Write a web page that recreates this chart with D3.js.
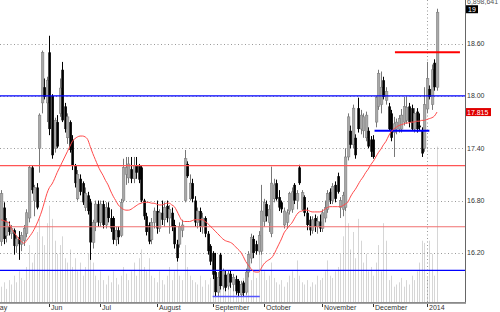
<!DOCTYPE html>
<html><head><meta charset="utf-8">
<script src="https://cdn.jsdelivr.net/npm/d3@7"></script>
<style>html,body{margin:0;padding:0;background:#fff;}svg{display:block;font-family:"Liberation Sans",Arial,sans-serif;}</style>
</head><body><svg id="c" width="500" height="312"></svg>
<script>
const openP=[16.33,16.72,16.40,16.50,16.42,16.46,16.28,16.38,16.30,16.34,16.42,16.60,17.18,16.80,16.95,17.40,17.92,18.10,17.92,18.50,18.00,17.40,17.70,17.80,18.30,17.88,17.52,17.70,17.50,17.20,16.82,17.05,17.00,16.72,16.86,16.78,16.32,16.55,16.76,16.55,16.76,16.52,16.72,16.60,16.60,16.35,16.46,16.40,16.80,17.10,17.06,17.16,17.05,17.20,17.20,17.18,16.80,16.62,16.52,16.35,16.55,16.68,16.48,16.66,16.58,16.74,16.60,16.66,16.52,16.30,16.30,16.46,16.80,17.22,16.82,17.00,16.80,16.55,16.68,16.50,16.60,16.42,16.28,16.20,15.98,15.75,16.18,15.82,15.95,15.82,15.96,15.84,15.90,15.88,15.72,15.86,15.75,15.98,16.14,16.36,16.30,16.22,16.22,16.56,16.76,16.55,16.42,16.82,17.00,16.84,16.78,16.52,16.55,16.68,16.70,16.98,16.80,17.18,16.70,16.84,16.66,16.58,16.46,16.60,16.50,16.56,16.48,16.60,16.70,16.90,16.80,16.98,17.08,16.72,16.70,16.72,17.30,17.60,17.44,17.52,17.86,17.62,17.60,17.52,17.60,17.50,17.50,17.70,17.88,17.90,18.18,17.95,17.88,17.80,17.58,17.62,17.62,17.62,17.70,17.72,17.88,17.86,17.62,17.82,17.66,17.60,17.40,17.85,18.08,17.90,18.38,18.10];
const highP=[16.92,16.78,16.60,16.56,16.52,16.48,16.40,16.45,16.44,16.52,16.70,17.20,17.20,16.98,17.00,17.80,18.52,18.20,18.22,18.69,18.02,17.75,17.78,18.20,18.39,17.92,17.80,17.72,17.55,17.22,17.15,17.10,17.02,16.95,16.90,16.82,16.58,16.80,16.80,16.80,16.80,16.78,16.78,16.70,16.62,16.50,16.50,16.82,17.28,17.30,17.30,17.30,17.30,17.30,17.22,17.20,16.82,16.66,16.55,16.60,16.72,16.80,16.70,16.80,16.78,16.80,16.75,16.72,16.58,16.35,16.55,16.58,17.38,17.25,17.10,17.05,16.85,16.72,16.72,16.66,16.62,16.45,16.30,16.22,16.20,15.98,16.20,16.02,16.00,16.00,16.00,15.96,15.94,15.90,15.88,15.88,16.02,16.22,16.42,16.40,16.34,16.45,16.98,16.82,16.80,16.75,17.19,17.05,17.04,16.92,16.80,16.72,16.70,16.90,16.95,17.00,16.92,17.21,16.92,16.86,16.72,16.62,16.62,16.64,16.62,16.64,16.70,16.80,16.92,16.94,17.00,17.02,17.12,16.84,16.90,17.40,17.80,17.66,17.90,17.56,17.98,17.84,17.80,17.82,17.64,17.54,17.55,18.00,18.30,18.28,18.22,18.10,17.92,17.84,17.76,17.74,17.78,17.85,17.99,17.99,17.92,17.90,17.86,17.86,17.80,17.64,18.10,18.39,18.12,18.36,18.42,19.00];
const lowP=[16.28,16.30,16.32,16.40,16.36,16.18,16.20,16.12,16.22,16.28,16.38,16.55,16.88,16.62,16.70,17.12,17.80,17.96,17.70,17.55,17.28,17.35,17.40,17.76,17.70,17.58,17.45,17.35,17.15,16.95,16.80,16.86,16.75,16.68,16.64,16.12,16.25,16.45,16.50,16.50,16.48,16.48,16.55,16.44,16.30,16.28,16.30,16.38,16.78,16.98,17.00,17.00,17.00,17.05,17.00,16.78,16.58,16.40,16.30,16.30,16.48,16.42,16.44,16.52,16.50,16.55,16.42,16.45,16.25,16.10,16.26,16.38,16.78,17.06,16.80,16.78,16.50,16.48,16.44,16.42,16.38,16.18,16.06,15.90,15.70,15.70,15.78,15.78,15.76,15.78,15.80,15.76,15.72,15.70,15.70,15.70,15.72,15.92,16.08,16.14,16.18,16.18,16.18,16.50,16.56,16.44,16.38,16.78,16.80,16.68,16.66,16.48,16.48,16.64,16.66,16.76,16.70,16.98,16.68,16.62,16.46,16.40,16.42,16.44,16.42,16.44,16.44,16.55,16.66,16.76,16.76,16.78,16.88,16.60,16.62,16.68,17.26,17.40,17.40,17.28,17.58,17.56,17.52,17.48,17.40,17.30,17.28,17.64,17.84,17.80,17.96,17.90,17.60,17.48,17.30,17.56,17.58,17.58,17.66,17.68,17.64,17.60,17.58,17.58,17.60,17.30,17.36,17.80,17.96,17.84,18.06,18.06];
const closeP=[16.88,16.36,16.55,16.44,16.48,16.28,16.36,16.30,16.40,16.48,16.66,17.18,16.92,16.95,16.72,17.78,18.50,17.99,18.18,17.62,17.32,17.72,17.42,18.09,17.72,17.62,17.76,17.38,17.20,17.00,17.10,16.90,16.78,16.88,16.68,16.32,16.55,16.76,16.55,16.76,16.52,16.72,16.60,16.48,16.35,16.46,16.38,16.78,17.18,17.18,17.22,17.05,17.20,17.12,17.04,16.80,16.62,16.44,16.33,16.55,16.68,16.48,16.66,16.58,16.72,16.60,16.70,16.50,16.30,16.14,16.50,16.52,17.28,17.08,17.00,16.82,16.55,16.68,16.50,16.60,16.42,16.22,16.10,15.95,15.75,15.92,15.82,16.00,15.80,15.96,15.86,15.92,15.76,15.74,15.84,15.74,15.98,16.18,16.38,16.20,16.22,16.40,16.68,16.78,16.62,16.70,17.00,16.98,16.82,16.72,16.70,16.68,16.66,16.88,16.90,16.80,16.88,17.00,16.89,16.66,16.52,16.46,16.58,16.50,16.56,16.48,16.66,16.72,16.88,16.80,16.96,16.82,16.90,16.80,16.86,17.30,17.76,17.44,17.86,17.32,17.62,17.78,17.76,17.78,17.42,17.36,17.30,17.98,18.26,18.10,17.99,18.05,17.62,17.52,17.68,17.70,17.74,17.78,17.88,17.87,17.70,17.62,17.80,17.62,17.64,17.34,17.90,18.20,17.99,18.30,18.10,18.96];
const maP=[16.58,16.57,16.56,16.55,16.48,16.44,16.40,16.36,16.33,16.31,16.34,16.38,16.42,16.47,16.53,16.60,16.68,16.78,16.88,16.95,16.99,17.05,17.12,17.18,17.24,17.30,17.36,17.42,17.48,17.51,17.53,17.54,17.54,17.53,17.50,17.42,17.34,17.27,17.20,17.14,17.09,17.03,16.98,16.91,16.85,16.80,16.75,16.72,16.70,16.69,16.69,16.70,16.72,16.74,16.76,16.77,16.78,16.78,16.78,16.77,16.77,16.76,16.75,16.75,16.76,16.77,16.77,16.75,16.73,16.68,16.62,16.57,16.56,16.56,16.56,16.57,16.58,16.58,16.58,16.58,16.56,16.54,16.51,16.48,16.45,16.42,16.39,16.36,16.34,16.33,16.32,16.30,16.27,16.24,16.21,16.16,16.10,16.06,16.02,15.99,15.98,15.98,16.02,16.07,16.10,16.12,16.14,16.18,16.24,16.30,16.36,16.43,16.47,16.51,16.54,16.59,16.64,16.67,16.68,16.69,16.69,16.68,16.67,16.67,16.67,16.67,16.68,16.70,16.72,16.73,16.73,16.73,16.73,16.73,16.74,16.76,16.78,16.84,16.89,16.93,16.98,17.03,17.07,17.12,17.16,17.21,17.25,17.30,17.35,17.39,17.44,17.48,17.54,17.59,17.62,17.64,17.66,17.67,17.68,17.69,17.69,17.70,17.70,17.71,17.71,17.72,17.72,17.73,17.74,17.75,17.77,17.815];
const volume=[0.35,0.45,0.30,0.50,0.40,0.60,0.45,0.70,0.55,0.50,0.80,1.30,0.90,1.10,1.60,1.90,1.50,1.30,1.80,2.20,1.90,1.40,1.10,1.30,1.50,1.00,0.90,1.20,0.80,1.00,0.70,0.90,0.60,0.80,1.10,1.40,0.90,0.60,0.50,0.70,0.50,0.40,0.60,0.45,0.70,0.55,0.40,0.60,0.80,0.65,0.50,0.70,0.90,0.60,1.00,1.20,0.80,0.70,1.00,0.60,0.55,0.45,0.70,0.50,0.40,0.60,0.80,0.50,0.70,0.90,0.60,0.50,1.30,0.80,0.60,0.50,0.45,0.40,0.60,0.35,0.50,0.40,0.55,0.70,0.45,0.35,0.40,0.50,0.30,0.45,0.35,0.50,0.40,0.30,0.45,0.55,0.40,0.60,0.50,0.70,0.55,1.30,1.10,0.70,0.50,0.60,0.90,0.55,0.45,0.40,0.50,0.35,0.45,0.60,0.70,0.55,0.95,0.60,0.45,0.40,0.50,0.35,0.45,0.40,0.60,0.50,0.55,0.70,0.95,0.60,0.55,0.70,0.80,1.10,1.50,2.10,1.80,1.20,1.60,1.00,1.90,1.40,0.90,1.10,0.70,0.80,0.60,0.90,1.30,0.70,1.80,1.40,0.50,0.60,0.35,0.40,0.45,0.55,0.35,0.50,0.40,0.60,0.50,0.70,0.90,1.40,1.35,0.55,1.40,1.10,0.60,3.55];
const monthLabels=["May","Jun","Jul","August","September","October","November","December","2014"];
const monthIndex=[-3.5,19,39,61,83,103,126,146,167];
const priceTicks=[16.2,16.8,17.4,18.0,18.6];
const fullLevels=[{v:18.0,c:"#0000ff"},{v:16.0,c:"#0000ff"},{v:17.2,c:"#ff5555"},{v:16.5,c:"#f07070"}];
const segLevels=[{v:18.5,a:154.5,b:180,c:"#ff0000",w:2},{v:17.6,a:146.5,b:168,c:"#0000ff",w:2},{v:15.70,a:83,b:101.5,c:"#5555ff",w:1.5}];
const volMaxLabel="6,898,641";
const volMax=6.898641;
const lastLabel="17.815";

const svg=d3.select("#c");
const PR=465, PB=302;
const x=d3.scaleLinear().domain([0,171]).range([1,437]);
const y=d3.scaleLinear().domain([15.637,19.1]).range([PB,0]);
const yv=d3.scaleLinear().domain([0,volMax]).range([PB,0]);

svg.append("defs").append("clipPath").attr("id","pc").append("rect").attr("x",0).attr("y",0).attr("width",PR).attr("height",PB);
const g=svg.append("g").attr("clip-path","url(#pc)");

// volume
g.append("g").selectAll("line").data(volume).join("line")
 .attr("x1",(d,i)=>Math.round(x(i))+0.5).attr("x2",(d,i)=>Math.round(x(i))+0.5)
 .attr("y1",PB).attr("y2",d=>yv(d)).attr("stroke","#d6d6d6").attr("stroke-width",1);

// grid
g.append("g").selectAll("line").data(priceTicks).join("line")
 .attr("x1",0).attr("x2",PR).attr("y1",d=>Math.round(y(d))+0.5).attr("y2",d=>Math.round(y(d))+0.5)
 .attr("stroke","#999").attr("stroke-dasharray","1,2.5");
g.append("line").attr("x1",Math.round(x(167))+0.5).attr("x2",Math.round(x(167))+0.5).attr("y1",0).attr("y2",PB)
 .attr("stroke","#999").attr("stroke-dasharray","1,2.5");

// candles
const idx=d3.range(openP.length);
const cg=g.append("g");
cg.selectAll("line").data(idx).join("line")
 .attr("x1",i=>Math.round(x(i))+0.5).attr("x2",i=>Math.round(x(i))+0.5)
 .attr("y1",i=>y(highP[i])).attr("y2",i=>y(lowP[i]))
 .attr("stroke",i=>closeP[i]>=openP[i]?"#777":"#000").attr("stroke-width",1);
cg.selectAll("rect").data(idx).join("rect")
 .attr("x",i=>Math.round(x(i))-0.7).attr("width",2.6)
 .attr("y",i=>y(Math.max(openP[i],closeP[i])))
 .attr("height",i=>Math.max(1,y(Math.min(openP[i],closeP[i]))-y(Math.max(openP[i],closeP[i]))))
 .attr("fill",i=>closeP[i]>=openP[i]?"#a8a8a8":"#000")
 .attr("stroke",i=>closeP[i]>=openP[i]?"#7a7a7a":"none").attr("stroke-width",0.5);

// level lines
g.append("g").selectAll("line").data(fullLevels).join("line")
 .attr("x1",0).attr("x2",PR).attr("y1",d=>y(d.v)).attr("y2",d=>y(d.v)).attr("stroke",d=>d.c).attr("stroke-width",1.2);
g.append("g").selectAll("line").data(segLevels).join("line")
 .attr("x1",d=>x(d.a)).attr("x2",d=>x(d.b)).attr("y1",d=>y(d.v)).attr("y2",d=>y(d.v)).attr("stroke",d=>d.c).attr("stroke-width",d=>d.w);

// MA
g.append("path").datum(maP).attr("fill","none").attr("stroke","#ff4a4a").attr("stroke-width",1)
 .attr("d",d3.line().x((d,i)=>x(i)).y(d=>y(d)).curve(d3.curveMonotoneX));

// frame
svg.append("line").attr("x1",PR+0.5).attr("x2",PR+0.5).attr("y1",0).attr("y2",PB+1).attr("stroke","#666");
svg.append("rect").attr("x",0).attr("y",PB).attr("width",PR+1).attr("height",1.8).attr("fill","#8a8a8a");

// price labels
svg.append("g").selectAll("text").data(priceTicks).join("text")
 .attr("x",467).attr("y",d=>y(d)+2.5).attr("font-size",7).attr("fill","#333").text(d=>d.toFixed(2));

// 19 box
svg.append("rect").attr("x",466).attr("y",y(19)-3.5).attr("width",12).attr("height",8).attr("fill","#000");
svg.append("text").attr("x",468).attr("y",y(19)+3).attr("font-size",7).attr("fill","#fff").text("19");
// last MA box
const lm=maP[maP.length-1];
svg.append("rect").attr("x",466).attr("y",y(lm)-4).attr("width",25).attr("height",8).attr("fill","#e00000");
svg.append("text").attr("x",467).attr("y",y(lm)+2.5).attr("font-size",7).attr("fill","#fff").text(lastLabel);
// volume max label
svg.append("text").attr("x",467).attr("y",3.5).attr("font-size",7).attr("fill","#555").text(volMaxLabel);

// month axis
const mg=svg.append("g");
monthIndex.forEach((mi,k)=>{
  const xx=Math.round(x(mi))+0.5;
  mg.append("line").attr("x1",xx).attr("x2",xx).attr("y1",PB+2).attr("y2",PB+5).attr("stroke","#333");
  mg.append("text").attr("x",xx+1.5).attr("y",310).attr("font-size",7).attr("fill","#333").text(monthLabels[k]);
});
</script></body></html>
